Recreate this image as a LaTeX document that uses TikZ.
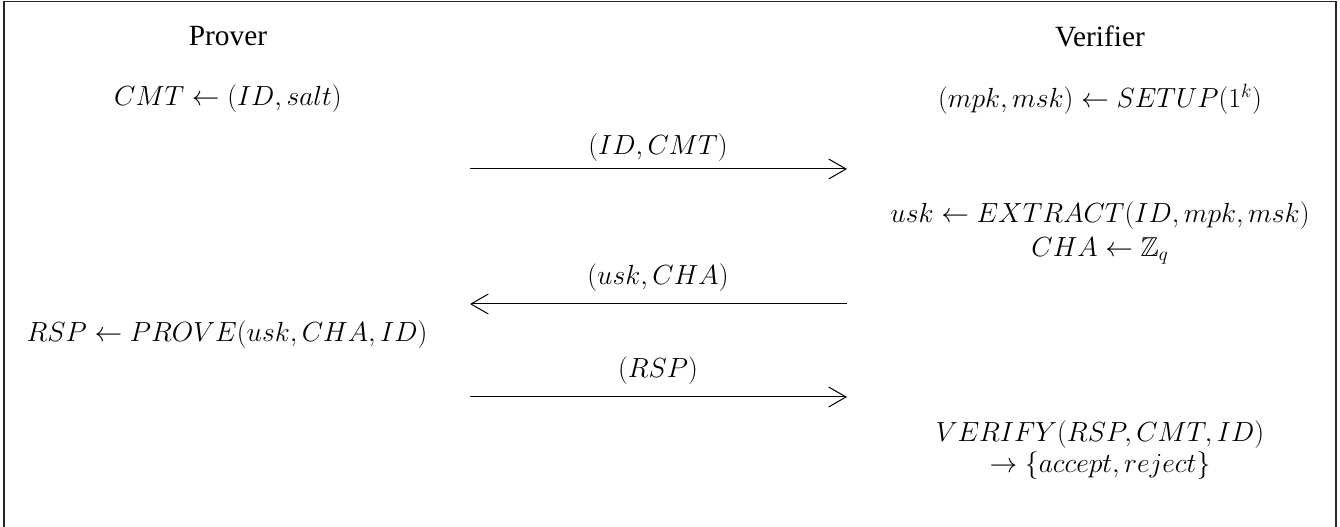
\documentclass[tikz,border=0pt]{standalone}
\usepackage{amsmath,amssymb}
\usepackage{fontspec}
\setmainfont{Liberation Serif}
\usetikzlibrary{arrows.meta}

\tikzset{
  party/.style={font=\fontsize{22}{26}\selectfont, inner sep=0pt},
  formula/.style={font=\fontsize{20.5}{24}\selectfont, inner sep=0pt},
  msg/.style={line width=0.75pt, -{Straight Barb[length=13pt, width=15pt, line width=0.75pt]}},
  frame/.style={line width=1.1pt, draw=black!85}
}

\begin{document}
\begin{tikzpicture}[x=0.75pt, y=-0.75pt]
  \useasboundingbox (0,0) rectangle (1340,527);
  % open frame (no bottom edge)
  \draw[frame] (4,527) -- (4,1.5) -- (1336,1.5) -- (1336,527);

  % parties
  \node[party] (prover) at (228,36) {Prover};
  \node[party] (verifier) at (1100,36) {Verifier};

  % prover side
  \node[formula] (cmt) at (228,99) {$CMT \leftarrow (ID, salt)$};
  \node[formula] (rsp) at (227,335) {$RSP \leftarrow PROVE(usk, CHA, ID)$};

  % verifier side
  \node[formula] (setup) at (1100,99) {$(mpk, msk) \leftarrow SETUP(1^k)$};
  \node[formula] (extract) at (1100,216) {$usk \leftarrow EXTRACT(ID, mpk, msk)$};
  \node[formula] (cha) at (1100,251) {$CHA \leftarrow \mathbb{Z}_q$};
  \node[formula] (verify) at (1100,435) {$VERIFY(RSP, CMT, ID)$};
  \node[formula] (result) at (1100,466) {$\rightarrow \{accept, reject\}$};

  % message endpoints
  \coordinate (a1) at (470,169);
  \coordinate (b1) at (847,169);
  \coordinate (a2) at (470,304);
  \coordinate (b2) at (847,304);
  \coordinate (a3) at (470,397);
  \coordinate (b3) at (847,397);

  % messages
  \draw[msg] (a1) -- (b1);
  \node[formula] (m1) at (658,148) {$(ID, CMT)$};
  \draw[msg] (b2) -- (a2);
  \node[formula] (m2) at (658,278) {$(usk, CHA)$};
  \draw[msg] (a3) -- (b3);
  \node[formula] (m3) at (658,371) {$(RSP)$};
\end{tikzpicture}
\end{document}
